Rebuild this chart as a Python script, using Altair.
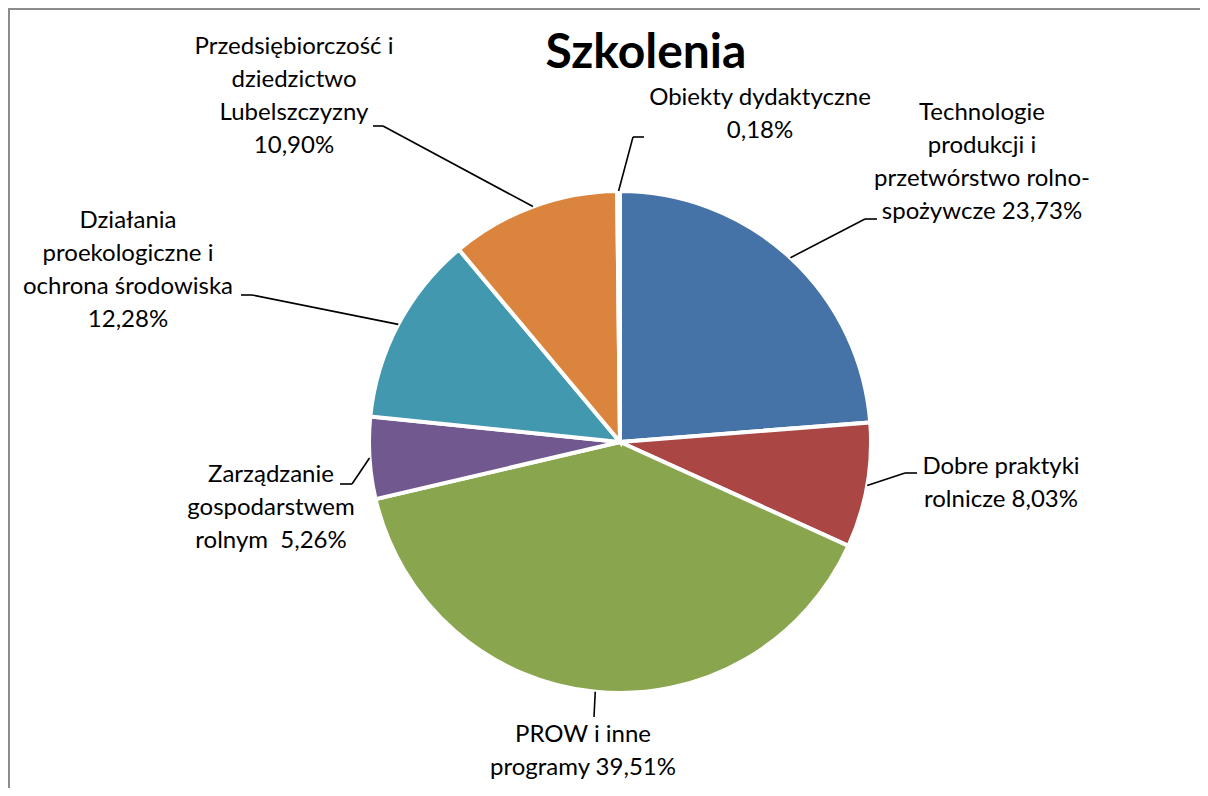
import altair as alt
import pandas as pd

# ---- data ----
categories = [
    "Technologie produkcji i przetwórstwo rolno-spożywcze",
    "Dobre praktyki rolnicze",
    "PROW i inne programy",
    "Zarządzanie gospodarstwem rolnym",
    "Działania proekologiczne i ochrona środowiska",
    "Przedsiębiorczość i dziedzictwo Lubelszczyzny",
    "Obiekty dydaktyczne",
]
values = [23.73, 8.03, 39.51, 5.26, 12.28, 10.90, 0.18]
label_heads = [
    "Technologie\nprodukcji i\nprzetwórstwo rolno-\nspożywcze ",
    "Dobre praktyki\nrolnicze ",
    "PROW i inne\nprogramy ",
    "Zarządzanie\ngospodarstwem\nrolnym\u00a0 ",
    "Działania\nproekologiczne i\nochrona środowiska\n",
    "Przedsiębiorczość i\ndziedzictwo\nLubelszczyzny\n",
    "Obiekty dydaktyczne\n",
]
colors = ["#4572A7", "#AA4643", "#89A54E", "#71588F", "#4198AF", "#DB843D", "#A5B9DA"]

# ---- layout (page pixels) ----
OFF = 8
W, H = 1192, 780
CX, CY = 620 - OFF, 442 - OFF
R_PIE = 251
R_LEAD = 251
label_x = [982, 1001, 583, 271, 128, 294, 760]
label_y = [113, 467, 735, 475, 221, 47, 98]   # first line centre
elbow_x = [865, 905, 594, 352, 252, 383, 633]
elbow_y = [219, 473, 717, 484, 295, 126, 137]
end_x = [877, 917, 594, 340, 241, 373, 644]

FONT = "Lato"

df = pd.DataFrame({
    "idx": list(range(len(categories))),
    "category": categories,
    "value": values,
    "label": [h + f"{v:.2f}".replace(".", ",") + "%" for h, v in zip(label_heads, values)],
    "lx": [v - OFF for v in label_x],
    "ly": [v - OFF for v in label_y],
    "ex": [v - OFF for v in elbow_x],
    "ey": [v - OFF for v in elbow_y],
    "tx": [v - OFF for v in end_x],
})

base = alt.Chart(df)

arc = base.mark_arc(outerRadius=R_PIE, stroke="white", strokeWidth=4).encode(
    theta=alt.Theta("value:Q", stack=True),
    color=alt.Color("category:N", scale=alt.Scale(domain=categories, range=colors), legend=None),
    order=alt.Order("idx:Q"),
    x=alt.value(CX),
    y=alt.value(CY),
)

lead = base.transform_window(
    cum="sum(value)", sort=[alt.SortField("idx")], frame=[None, 0]
).transform_joinaggregate(
    total="sum(value)"
).transform_calculate(
    mid="(datum.cum - datum.value/2) / datum.total * 2 * PI",
    sx=f"{CX} + {R_LEAD} * sin(datum.mid)",
    sy=f"{CY} - {R_LEAD} * cos(datum.mid)",
)

seg1 = lead.mark_rule(color="black", strokeWidth=1.6).encode(
    x=alt.X("sx:Q", scale=None),
    y=alt.Y("sy:Q", scale=None),
    x2="ex:Q",
    y2="ey:Q",
)
seg2 = base.mark_rule(color="black", strokeWidth=1.6).encode(
    x=alt.X("ex:Q", scale=None),
    y=alt.Y("ey:Q", scale=None),
    x2="tx:Q",
)

labels = base.mark_text(
    font=FONT, fontSize=24, lineHeight=33, lineBreak="\n",
    align="center", baseline="middle", color="black",
).encode(
    x=alt.X("lx:Q", scale=None),
    y=alt.Y("ly:Q", scale=None),
    text="label:N",
)

title = alt.Chart(pd.DataFrame({"t": ["Szkolenia"]})).mark_text(
    font=FONT, fontSize=48, fontWeight="bold", align="center", baseline="middle", color="black"
).encode(
    x=alt.value(646 - OFF), y=alt.value(54 - OFF), text="t:N"
)

border_df = pd.DataFrame({"a": [0]})
top_border = alt.Chart(border_df).mark_rule(color="#8c8c8c", strokeWidth=2).encode(
    x=alt.value(0), x2=alt.value(W), y=alt.value(1)
)
left_border = alt.Chart(border_df).mark_rule(color="#8c8c8c", strokeWidth=2).encode(
    x=alt.value(1), y=alt.value(0), y2=alt.value(H)
)

chart = alt.layer(arc, seg1, seg2, labels, title, top_border, left_border).properties(
    width=W, height=H, autosize=alt.AutoSizeParams(type="none"), padding=0
).configure_view(stroke="transparent")

chart.save("out.html", embed_options={"renderer": "svg", "actions": False})
